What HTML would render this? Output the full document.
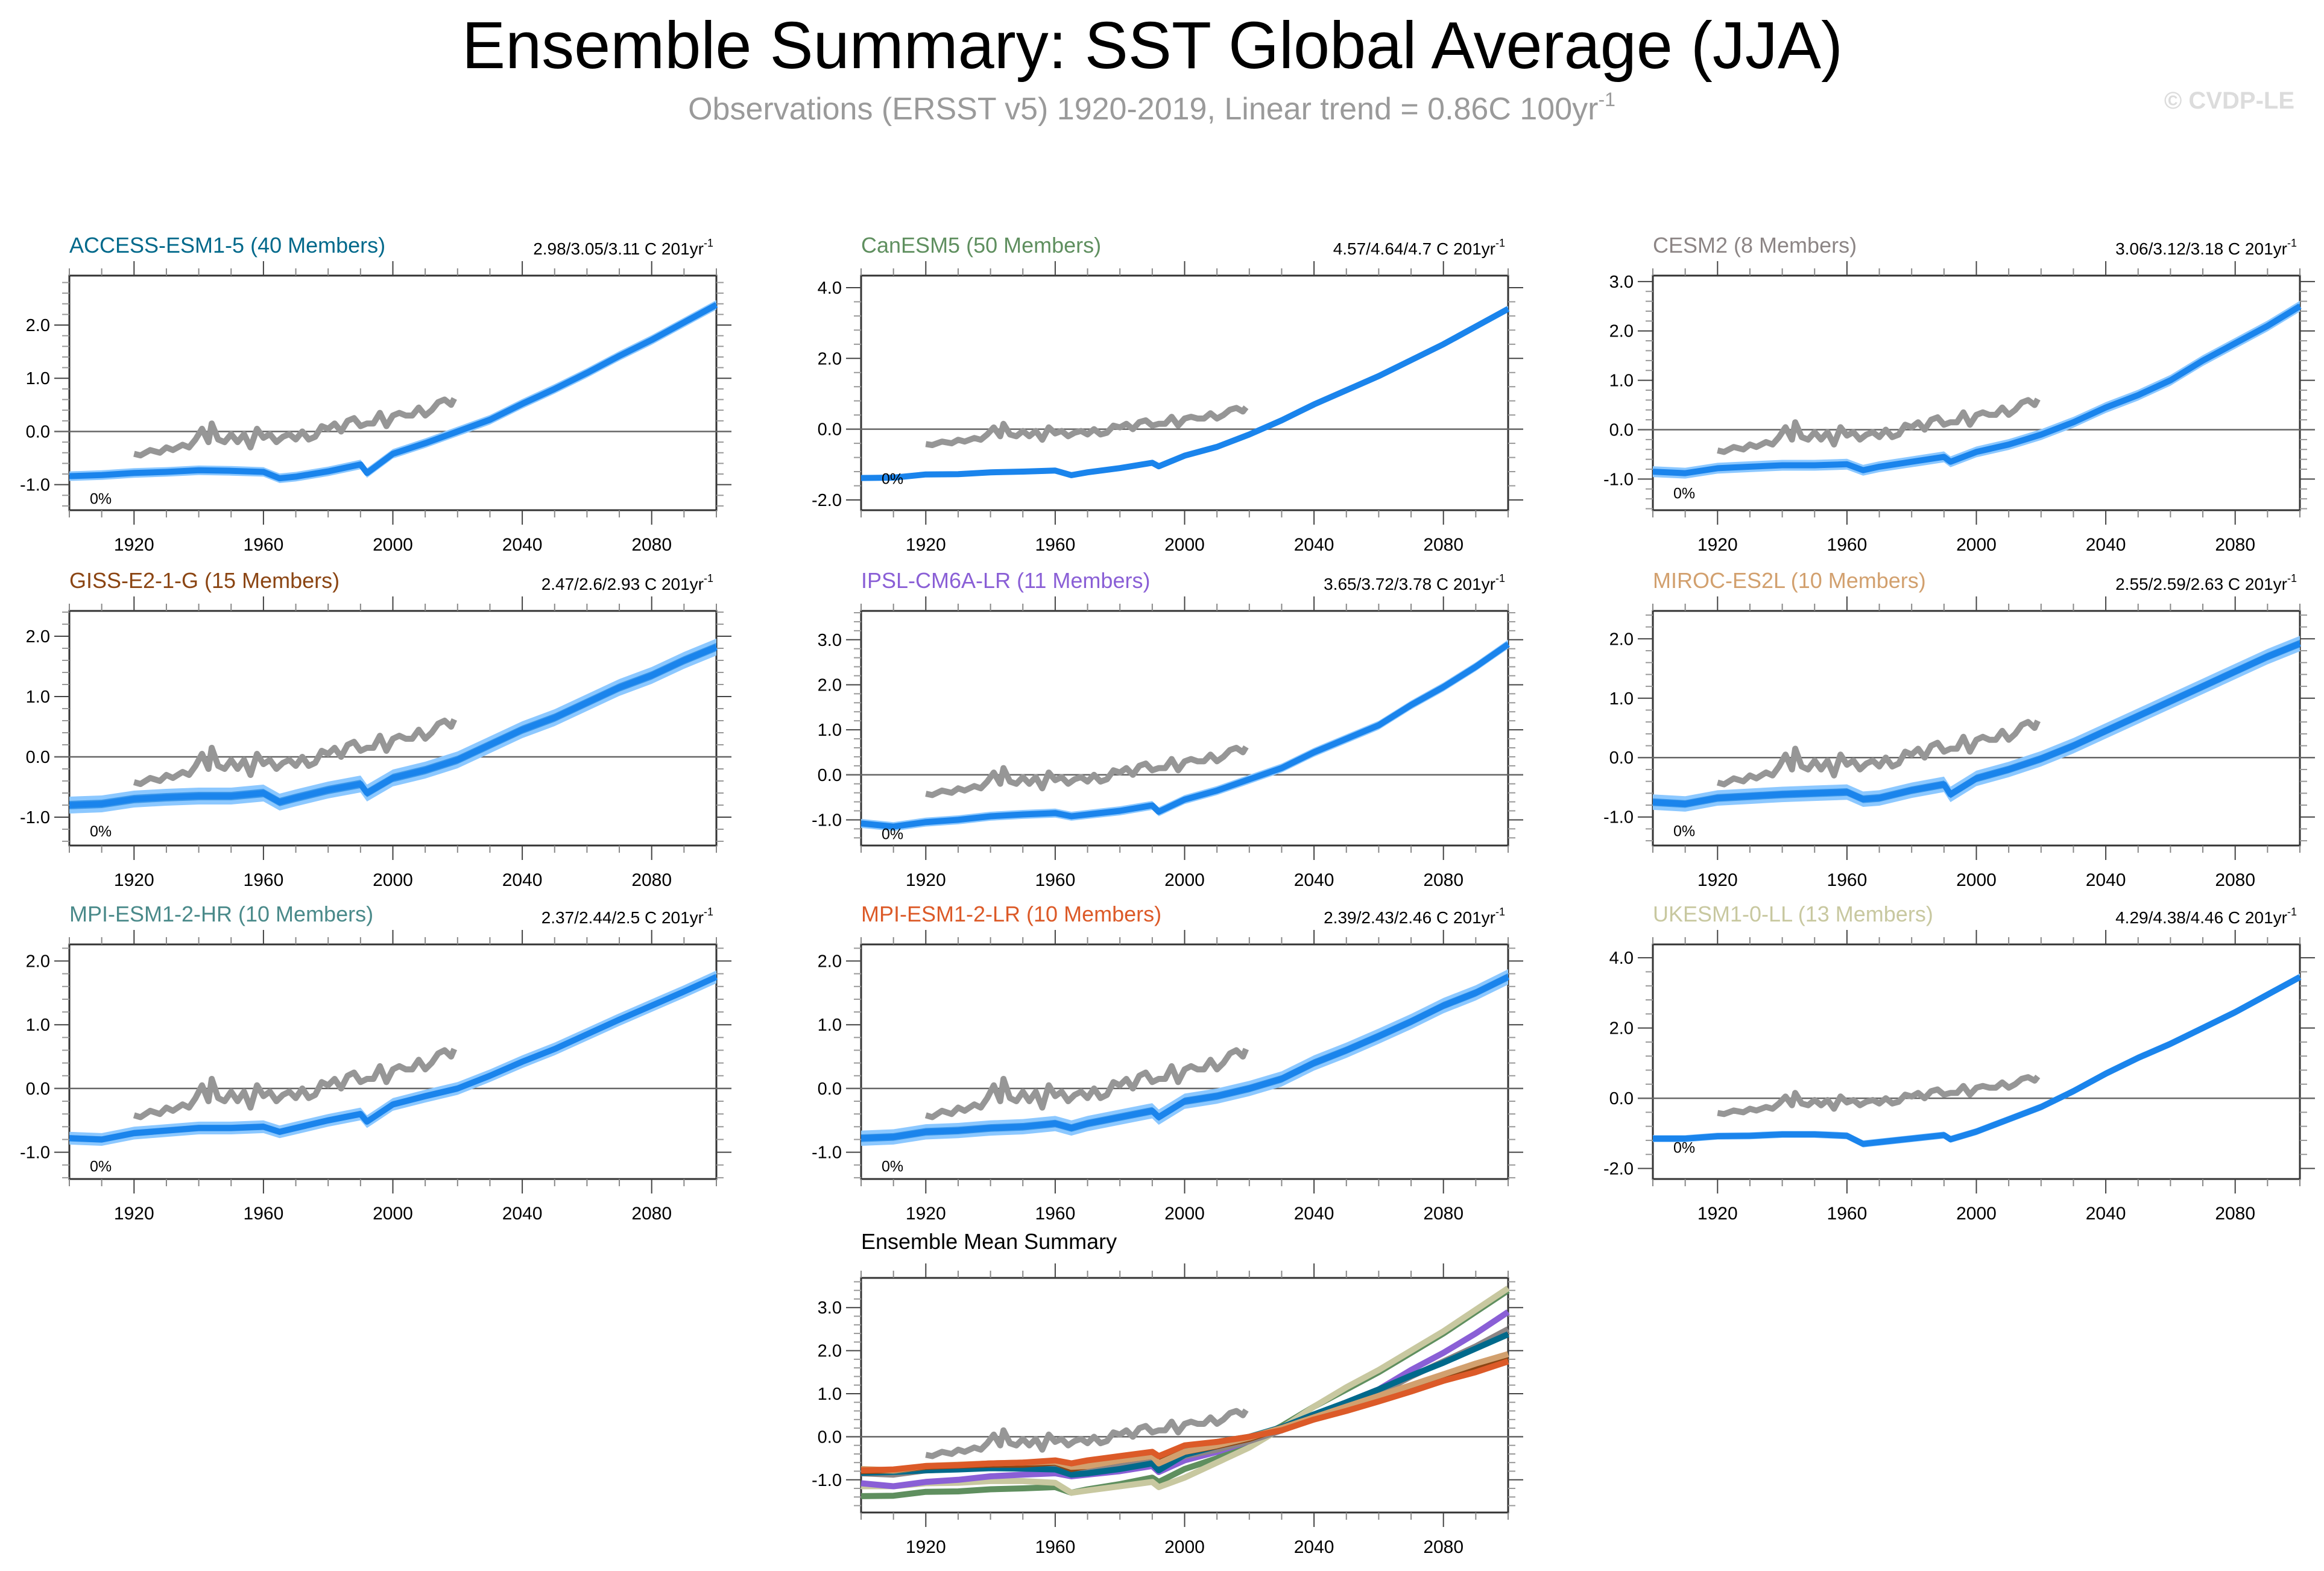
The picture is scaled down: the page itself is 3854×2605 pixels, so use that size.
<!DOCTYPE html>
<html><head><meta charset="utf-8">
<style>
html,body{margin:0;padding:0;background:#fff;}
svg{display:block;font-family:"Liberation Sans",Arial,sans-serif;}
</style></head>
<body>
<svg id="fig" width="3854" height="2605" viewBox="0 0 3854 2605" xmlns="http://www.w3.org/2000/svg">
<text x="1911" y="113" font-size="110" textLength="2290" lengthAdjust="spacingAndGlyphs" text-anchor="middle" fill="#000">Ensemble Summary: SST Global Average (JJA)</text>
<text x="1910" y="198" font-size="52" text-anchor="middle" fill="#9a9a9a">Observations (ERSST v5) 1920-2019, Linear trend = 0.86C 100yr<tspan font-size="32" dy="-22">-1</tspan></text>
<text x="3805" y="180" font-size="40" text-anchor="end" fill="#dcdcdc" font-weight="bold">© CVDP-LE</text>
<g id="panels"></g>
</svg>
<script>
// ---- data ----
const years = [1900,1910,1920,1930,1940,1950,1960,1965,1970,1980,1990,1992,2000,2010,2020,2030,2040,2050,2060,2070,2080,2090,2100];
const obsYears = [1920,1922,1925,1928,1930,1932,1935,1937,1939,1941,1943,1944,1946,1948,1950,1952,1954,1956,1958,1960,1962,1964,1966,1968,1970,1972,1974,1976,1978,1980,1982,1984,1986,1988,1990,1992,1994,1996,1998,2000,2002,2004,2006,2008,2010,2012,2014,2016,2018,2019];
const obsValues = [-0.42,-0.45,-0.35,-0.4,-0.3,-0.35,-0.25,-0.3,-0.15,0.05,-0.2,0.15,-0.15,-0.2,-0.05,-0.2,-0.05,-0.3,0.05,-0.12,-0.05,-0.2,-0.1,-0.05,-0.15,0,-0.15,-0.1,0.1,0.05,0.15,0,0.2,0.25,0.1,0.15,0.15,0.35,0.1,0.3,0.35,0.3,0.3,0.45,0.3,0.4,0.55,0.6,0.5,0.62];
const accessValues = [-0.84,-0.82,-0.78,-0.76,-0.73,-0.74,-0.76,-0.88,-0.85,-0.75,-0.62,-0.78,-0.42,-0.22,0.0,0.22,0.52,0.8,1.1,1.42,1.72,2.05,2.38];
const canesmValues = [-1.38,-1.37,-1.28,-1.27,-1.22,-1.2,-1.17,-1.3,-1.22,-1.1,-0.95,-1.05,-0.75,-0.5,-0.15,0.25,0.7,1.1,1.5,1.95,2.4,2.9,3.4];
const cesmValues = [-0.85,-0.88,-0.78,-0.75,-0.72,-0.72,-0.7,-0.82,-0.75,-0.65,-0.55,-0.65,-0.45,-0.3,-0.1,0.15,0.45,0.7,1.0,1.4,1.75,2.1,2.5];
const gissValues = [-0.8,-0.78,-0.7,-0.67,-0.65,-0.65,-0.6,-0.75,-0.68,-0.55,-0.45,-0.6,-0.35,-0.22,-0.05,0.2,0.45,0.65,0.9,1.15,1.35,1.6,1.82];
const ipslValues = [-1.08,-1.15,-1.05,-1.0,-0.92,-0.88,-0.85,-0.92,-0.88,-0.8,-0.68,-0.82,-0.55,-0.35,-0.1,0.15,0.5,0.8,1.1,1.55,1.95,2.4,2.9];
const mirocValues = [-0.75,-0.78,-0.68,-0.65,-0.62,-0.6,-0.58,-0.7,-0.68,-0.55,-0.45,-0.62,-0.35,-0.2,-0.02,0.2,0.45,0.7,0.95,1.2,1.45,1.7,1.92];
const mpihrValues = [-0.78,-0.8,-0.7,-0.66,-0.62,-0.62,-0.6,-0.68,-0.62,-0.5,-0.4,-0.52,-0.25,-0.12,0.0,0.2,0.42,0.62,0.85,1.08,1.3,1.52,1.75];
const mpilrValues = [-0.78,-0.76,-0.68,-0.66,-0.62,-0.6,-0.55,-0.62,-0.55,-0.45,-0.35,-0.45,-0.2,-0.12,0.0,0.15,0.4,0.6,0.82,1.05,1.3,1.5,1.75];
const ukesmValues = [-1.15,-1.15,-1.08,-1.07,-1.03,-1.03,-1.07,-1.3,-1.25,-1.15,-1.05,-1.17,-0.95,-0.6,-0.25,0.2,0.7,1.15,1.55,2.0,2.45,2.95,3.45];
const modelNames = ["ACCESS-ESM1-5 (40 Members)","CanESM5 (50 Members)","CESM2 (8 Members)","GISS-E2-1-G (15 Members)","IPSL-CM6A-LR (11 Members)","MIROC-ES2L (10 Members)","MPI-ESM1-2-HR (10 Members)","MPI-ESM1-2-LR (10 Members)","UKESM1-0-LL (13 Members)"];
const trendLabels = ["2.98/3.05/3.11","4.57/4.64/4.7","3.06/3.12/3.18","2.47/2.6/2.93","3.65/3.72/3.78","2.55/2.59/2.63","2.37/2.44/2.5","2.39/2.43/2.46","4.29/4.38/4.46"];
const spreads = [0.09,0.08,0.11,0.14,0.1,0.13,0.1,0.12,0.1];
const xTicks = [1920,1960,2000,2040,2080];

const series = [accessValues,canesmValues,cesmValues,gissValues,ipslValues,mirocValues,mpihrValues,mpilrValues,ukesmValues];
const colors = ["#00698b","#5f8f5f","#8c8585","#8b4513","#8a5fd6","#d2a06e","#4a8a8a","#dc5a28","#c8c8a0"];
const slugs = ["access-esm1-5","canesm5","cesm2","giss-e2-1-g","ipsl-cm6a-lr","miroc-es2l","mpi-esm1-2-hr","mpi-esm1-2-lr","ukesm1-0-ll"];
const yr = [[-1.48,2.93,[-1,0,1,2]],[-2.29,4.34,[-2,0,2,4]],[-1.63,3.12,[-1,0,1,2,3]],
            [-1.47,2.42,[-1,0,1,2]],[-1.57,3.64,[-1,0,1,2,3]],[-1.48,2.47,[-1,0,1,2]],
            [-1.42,2.26,[-1,0,1,2]],[-1.42,2.26,[-1,0,1,2]],[-2.3,4.38,[-2,0,2,4]]];
const colX = [115,1428,2741], rowY = [457,1013,1566], W = 1073, H = 389;
const NS = "http://www.w3.org/2000/svg";
const root = document.getElementById("panels");
function mk(tag, attrs, parent){const e=document.createElementNS(NS,tag);for(const k in attrs)e.setAttribute(k,attrs[k]);(parent||root).appendChild(e);return e;}

function drawPanel(px,py,ymin,ymax,ticks,g){
  const sx = y => px + (y-1900)/200*W;
  const sy = v => py + H - (v-ymin)/(ymax-ymin)*H;
  const step = ticks[1]-ticks[0], minor = step/5;
  mk("rect",{x:px,y:py,width:W,height:H,fill:"none",stroke:"#333","stroke-width":3},g);
  for(let y=1900;y<=2100;y+=10){
    const maj = xTicks.includes(y), L = maj?24:12;
    const t1 = mk("line",{x1:sx(y),x2:sx(y),y1:py,y2:py-L,stroke:maj?"#444":"#888","stroke-width":2},g);
    
    
    const t2 = mk("line",{x1:sx(y),x2:sx(y),y1:py+H,y2:py+H+L,stroke:maj?"#444":"#888","stroke-width":2},g);
    
    
  }
  xTicks.forEach(y=>{
    const t = mk("text",{x:sx(y),y:py+H+67,"font-size":30,"text-anchor":"middle",fill:"#000"},g);
    t.textContent = y;
    
    
  });
  for(let v=Math.ceil(ymin/minor-1e-6)*minor; v<=ymax+1e-6; v+=minor){
    const maj = ticks.some(t=>Math.abs(t-v)<1e-6), L = maj?25:12;
    mk("line",{x1:px,x2:px-L,y1:sy(v),y2:sy(v),stroke:maj?"#444":"#999","stroke-width":2},g);
    mk("line",{x1:px+W,x2:px+W+L,y1:sy(v),y2:sy(v),stroke:maj?"#444":"#999","stroke-width":2},g);
  }
  ticks.forEach(v=>{
    const t = mk("text",{x:px-32,y:sy(v)+10,"font-size":29,"text-anchor":"end",fill:"#000"},g);
    t.textContent = v.toFixed(1);
    
    
  });
  const z = mk("line",{x1:px-25,x2:px+W+25,y1:sy(0),y2:sy(0),stroke:"#666","stroke-width":2.5},g);
  
  
  return {sx,sy};
}
function pathOf(xs,vs,sx,sy,off){return xs.map((x,i)=>(i?"L":"M")+sx(x).toFixed(1)+","+sy(vs[i]+(off||0)).toFixed(1)).join(" ");}
function bandOf(xs,vs,sx,sy,d){
  let s = xs.map((x,i)=>(i?"L":"M")+sx(x).toFixed(1)+","+sy(vs[i]+d).toFixed(1)).join(" ");
  for(let i=xs.length-1;i>=0;i--) s += " L"+sx(xs[i]).toFixed(1)+","+sy(vs[i]-d).toFixed(1);
  return s+" Z";
}
function drawObs(sx,sy,g){
  const p = mk("path",{d:pathOf(obsYears,obsValues,sx,sy),fill:"none",stroke:"#969696","stroke-width":10,"stroke-linejoin":"round"},g);
  
  
}

for(let i=0;i<9;i++){
  const px = colX[i%3], py = rowY[Math.floor(i/3)];
  const g = mk("g",{});
  
  
  const {sx,sy} = drawPanel(px,py,yr[i][0],yr[i][1],yr[i][2],g);
  const tl = mk("text",{x:px,y:py-38,"font-size":36,fill:colors[i]},g);
  tl.textContent = modelNames[i];
  
  
  const tr = mk("text",{x:px+W-5,y:py-35,"font-size":28,"text-anchor":"end",fill:"#000"},g);
  tr.textContent = trendLabels[i]+" C 201yr";
  const sup = mk("tspan",{"font-size":18,dy:-13},tr); sup.textContent="-1";
  
  
  const b1 = mk("path",{d:bandOf(years,series[i],sx,sy,spreads[i]),fill:"#8cc8ff",stroke:"none"},g);
  
  
  const b2 = mk("path",{d:bandOf(years,series[i],sx,sy,spreads[i]*0.5),fill:"#3b97ea",stroke:"none"},g);
  
  
  const ln = mk("path",{d:pathOf(years,series[i],sx,sy),fill:"none",stroke:"#1a84ec","stroke-width":10,"stroke-linejoin":"round"},g);
  
  
  drawObs(sx,sy,g);
  const pc = mk("text",{x:px+34,y:sy(-1)+32,"font-size":25,fill:"#000"},g);
  pc.textContent = "0%";
  
  
}
// summary panel
{
  const px = 1428, py = 2119;
  const g = mk("g",{});
  
  
  const {sx,sy} = drawPanel(px,py,-1.76,3.69,[-1,0,1,2,3],g);
  const t = mk("text",{x:px,y:py-48,"font-size":36,fill:"#000"},g);
  t.textContent = "Ensemble Mean Summary";
  
  
  drawObs(sx,sy,g);
  [1,8,4,2,0,6,3,5,7].forEach(i=>{
    const p = mk("path",{d:pathOf(years,series[i],sx,sy),fill:"none",stroke:colors[i],"stroke-width":10,"stroke-linejoin":"round"},g);
    
    
  });
}
</script>
</body></html>
